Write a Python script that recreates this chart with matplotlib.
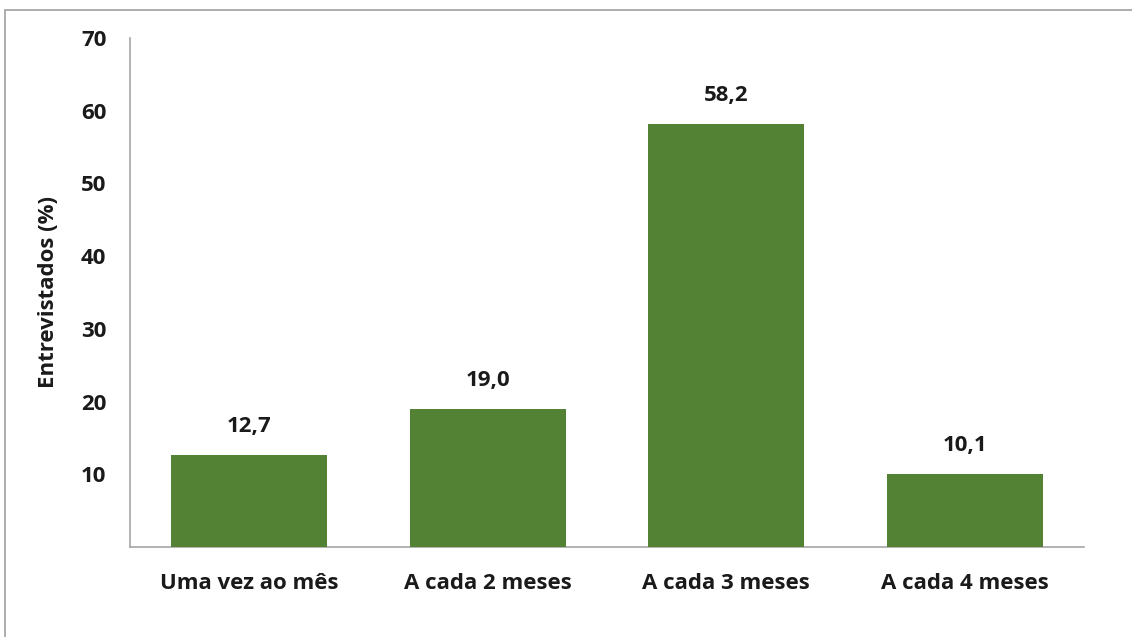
import matplotlib
matplotlib.use("Agg")
import matplotlib.pyplot as plt
from matplotlib.patches import Rectangle

categories = ["Uma vez ao mês", "A cada 2 meses", "A cada 3 meses", "A cada 4 meses"]
values = [12.7, 19.0, 58.2, 10.1]
labels = ["12,7", "19,0", "58,2", "10,1"]
yticks = [10, 20, 30, 40, 50, 60, 70]

plt.rcParams['font.family'] = ['Open Sans', 'DejaVu Sans']
FS = 16

fig = plt.figure(figsize=(11.32, 6.37), dpi=100)
ax = fig.add_axes([130/1132, 1-547/637, (1084-130)/1132, (547-38)/637])

x = list(range(len(categories)))
ax.bar(x, values, width=0.655, color="#548235", zorder=3)
for xi, v, lab in zip(x, values, labels):
    ax.text(xi, v + 2.4, lab, ha="center", va="bottom", fontsize=FS, fontweight="bold", color="#1a1a1a")

ax.set_xlim(-0.5, len(categories) - 0.5)
ax.set_ylim(0, 70)
ax.set_yticks(yticks)
ax.set_yticklabels([str(t) for t in yticks], fontsize=FS, fontweight="bold", color="#1a1a1a")
ax.set_xticks(x)
ax.set_xticklabels(categories, fontsize=FS, fontweight="bold", color="#1a1a1a")
ax.tick_params(axis="both", length=0)
ax.tick_params(axis="y", pad=17)
ax.tick_params(axis="x", pad=19)
ax.set_ylabel("Entrevistados (%)", fontsize=FS, fontweight="bold", color="#1a1a1a", labelpad=16)

for s in ["top", "right"]:
    ax.spines[s].set_visible(False)
for s in ["left", "bottom"]:
    ax.spines[s].set_color("#a6a6a6")
    ax.spines[s].set_linewidth(1.2)

fig.patches.append(Rectangle((5/1132, -0.05), 1.2, 1 - 10/637 + 0.05, transform=fig.transFigure,
                             fill=False, edgecolor="#a0a0a0", linewidth=1.2))

fig.savefig("out.png", dpi=100)
